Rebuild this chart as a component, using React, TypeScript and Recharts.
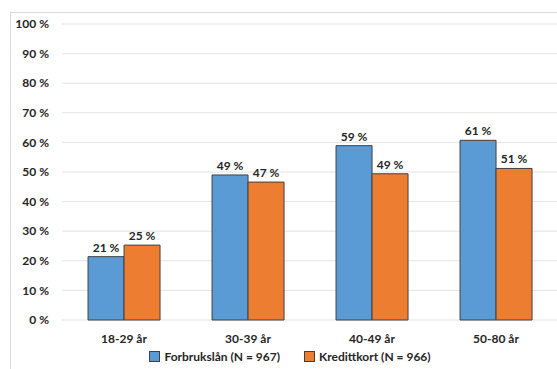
import { BarChart, Bar, XAxis, YAxis, CartesianGrid, Legend, LabelList } from 'recharts';

const ageGroups = ['18-29 år', '30-39 år', '40-49 år', '50-80 år'];
const forbrukslan = [21.4, 49.0, 58.9, 60.7];
const kredittkort = [25.3, 46.6, 49.4, 51.2];
const yTicks = [0, 10, 20, 30, 40, 50, 60, 70, 80, 90, 100];

const seriesNames = ['Forbrukslån (N = 967)', 'Kredittkort (N = 966)'];
const colors = ['#5B9BD5', '#ED7D31'];

const data = ageGroups.map((group, i) => ({
  group,
  forbrukslan: forbrukslan[i],
  kredittkort: kredittkort[i]
}));

const font = 'Lato, "Open Sans", sans-serif';
const textColor = '#262626';

// Excel-style legend with small bordered squares
const renderLegend = () => (
  <div style={{ display: 'flex', justifyContent: 'center', marginLeft: 22, fontFamily: font, fontWeight: 700, fontSize: 12, color: textColor }}>
    {seriesNames.map((name, i) => (
      <div key={name} style={{ display: 'flex', alignItems: 'center', marginRight: i === 0 ? 24 : 0 }}>
        <span style={{ width: 9, height: 9, background: colors[i], border: '1px solid #404040', marginRight: 4, display: 'inline-block' }} />
        <span>{name}</span>
      </div>
    ))}
  </div>
);

export default function App() {
  const fmt = (v: number) => `${Math.round(v)} %`;

  return (
    <div style={{ position: 'absolute', left: 0, top: 0, width: 557, height: 369, background: 'white', overflow: 'hidden' }}>
      <div style={{ position: 'absolute', left: 10, top: 12, width: 600, height: 400, border: '1px solid #d9d9d9' }} />
      <div style={{ position: 'absolute', left: 0, top: 0 }}>
        <BarChart width={620} height={369} data={data} margin={{ top: 24, right: 62, bottom: 0, left: 0 }} barCategoryGap="21%" barGap={0}>
          <CartesianGrid vertical={false} stroke="#e3e3e3" />
          <XAxis
            dataKey="group"
            axisLine={false}
            tickLine={false}
            height={29}
            tickMargin={8}
            tick={{ fontFamily: font, fontWeight: 700, fontSize: 12, fill: textColor }}
          />
          <YAxis
            domain={[0, 100]}
            ticks={yTicks}
            axisLine={false}
            tickLine={false}
            width={62}
            tickMargin={7}
            tickFormatter={(v: number) => `${v} %`}
            tick={{ fontFamily: font, fontWeight: 700, fontSize: 12, fill: textColor }}
          />
          <Legend verticalAlign="bottom" height={20} content={renderLegend} />
          <Bar dataKey="forbrukslan" name={seriesNames[0]} fill={colors[0]} stroke="#404040" strokeWidth={1} isAnimationActive={false}>
            <LabelList dataKey="forbrukslan" position="top" formatter={fmt} style={{ fontFamily: font, fontWeight: 700, fontSize: 12, fill: textColor }} />
          </Bar>
          <Bar dataKey="kredittkort" name={seriesNames[1]} fill={colors[1]} stroke="#404040" strokeWidth={1} isAnimationActive={false}>
            <LabelList dataKey="kredittkort" position="top" formatter={fmt} style={{ fontFamily: font, fontWeight: 700, fontSize: 12, fill: textColor }} />
          </Bar>
        </BarChart>
      </div>
    </div>
  );
}
